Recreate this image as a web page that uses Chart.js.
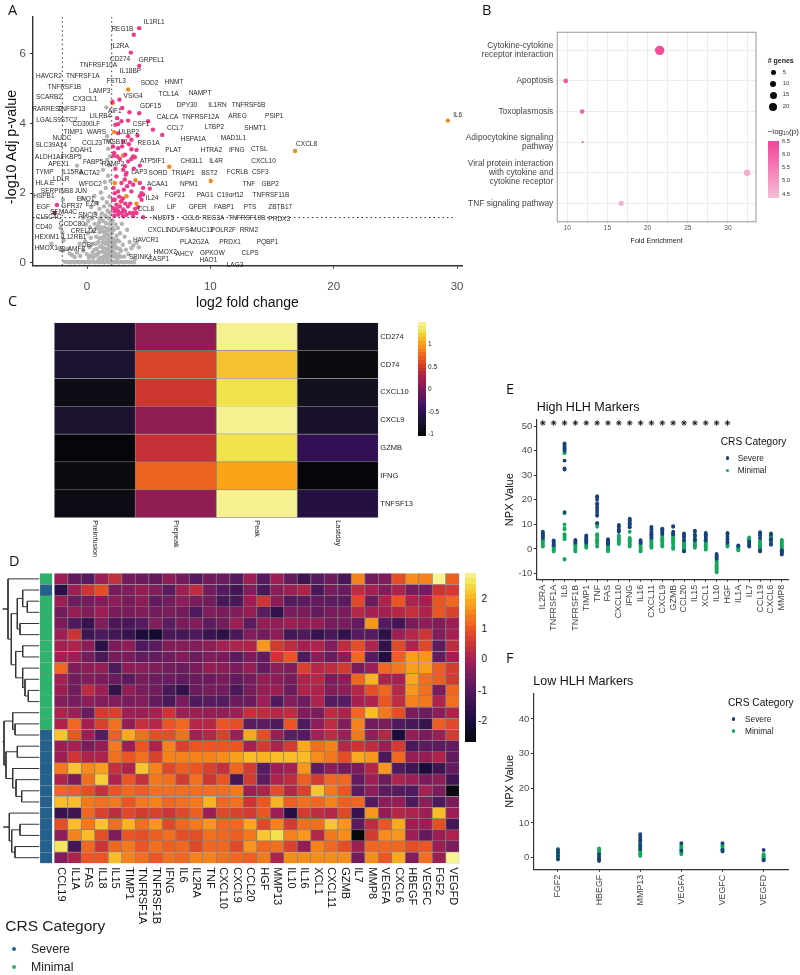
<!DOCTYPE html>
<html><head><meta charset="utf-8">
<style>
html,body{margin:0;padding:0;background:#fff;width:800px;height:975px;overflow:hidden;font-family:"Liberation Sans",Arial,sans-serif}
body{filter:blur(.3px)}
canvas{position:absolute;display:block}
.t{position:absolute;white-space:nowrap;line-height:1}
.d{position:absolute;border-radius:50%}
</style>
<script src="https://cdn.jsdelivr.net/npm/chart.js@4"></script>
</head><body>
<script>
/* ---------- Panel A data: volcano plot ---------- */
const pinkPoints=[[4.23,6.73],[3.79,6.54],[3.55,6.03],[4.23,5.65],[2.63,4.68],[2.06,4.62],[2.85,4.44],[3.44,4.32],[4.23,4.29],[2.44,4.15],[2.79,4.06],[2.52,3.98],[2.3,3.96],[3.33,4.08],[4.96,4.06],[5.34,3.82],[6.10,3.67],[2.52,3.72],[3.33,3.63],[4.09,3.65],[3.6,3.53],[2.93,3.48],[2.52,3.29],[2.11,3.34],[2.85,3.34],[3.6,3.26],[4.01,3.24],[2.11,3.07],[2.66,2.98],[3.6,2.98],[3.88,3.03],[3.33,2.91],[4.28,2.79],[2.93,2.67],[3.14,2.53],[3.06,2.39],[2.79,2.29],[3.47,2.31],[3.74,2.24],[4.28,2.29],[5.09,2.13],[4.55,2.15],[4.42,2.0],[2.25,2.0],[2.52,2.05],[2.98,2.1],[3.6,2.05],[4.28,1.91],[2.25,1.81],[2.38,1.67],[2.11,1.57],[2.66,1.62],[3.06,1.48],[3.47,1.43],[3.74,1.43],[2.25,1.48],[2.52,1.38],[2.93,1.34],[4.55,1.31],[-2.44,1.66],[2.79,1.77],[3.33,1.62],[2.38,2.48],[3.06,2.77],[3.2,2.58],[3.74,3.05],[2.52,1.48],[2.79,1.43],[3.2,1.38],[3.74,1.34],[4.01,1.43],[2.11,1.81],[2.93,1.53],[4.42,1.81],[4.55,1.96],[2.2,1.35],[2.4,1.55],[2.6,1.9],[2.9,1.85],[3.1,1.7],[3.25,2.2],[3.5,1.7],[3.9,1.55],[4.15,1.6],[2.15,2.15],[2.3,2.7],[2.45,3.05],[2.2,3.15],[3.1,3.1],[3.4,3.4],[3.8,2.7]];
const darkPinkPoints=[[-2.63,1.43]];
const orangePoints=[[3.33,4.97],[2.06,4.58],[2.2,3.75],[2.93,3.08],[6.67,2.76],[10.03,2.35],[2.25,2.29],[3.93,2.37],[3.2,1.91],[2.71,1.75],[4.01,1.7],[29.25,4.08],[16.87,3.21]];
const greyPoints=[[-1.8,.03],[-1.6,.03],[-1.4,.02],[-1.2,.03],[-1,.02],[-.8,.03],[-.6,.02],[-.4,.03],[-.2,.02],[0,.03],[.2,.02],[.4,.03],[.6,.02],[.8,.03],[1,.02],[1.2,.03],[1.4,.02],[1.6,.03],[1.8,.02],[2,.03],[2.2,.02],[2.4,.03],[2.6,.02],[2.8,.03],[3,.02],[3.2,.03],[3.4,.02],[3.6,.03],[3.8,.02],
[-2.9,.55],[-2.25,.42],[-2.15,.37],[-1.95,.35],[-1.95,1.81],[-2.15,1.0],[-2,.88],[-1.9,.65],[-1.55,.4],[-1.4,.27],[-1.2,.22],[-1,.17],[-.8,.3],[-.81,2.79],[-.4,1.85],[-.3,1.3],[-.1,1.1],[-.6,.55],[-.55,.2],[-.3,.35],[-.15,.62],[0,.25],[.05,.85],[.1,1.2],[.2,.45],[.25,1.02],[.3,.72],[.35,1.6],[.4,1.28],[.45,.3],[.5,.9],[.55,.55],[.6,1.92],[.62,1.12],[.68,.22],[.7,1.42],[.75,.75],[.8,.4],[.85,1.72],[.9,1.05],[.92,.6],[.95,.3],[1,1.55],[1,.88],[1.05,1.25],[1.08,.48],[1.1,.15],[1.12,2.02],[1.15,.72],[1.18,1.02],[1.2,1.42],[1.22,.32],[1.25,1.85],[1.28,.58],[1.3,2.67],[1.3,.9],[1.32,1.2],[1.35,.18],[1.36,.42],[1.38,1.62],[1.4,.75],[1.42,1.02],[1.44,2.32],[1.46,.3],[1.48,1.36],[1.5,.55],[1.52,2.15],[1.54,.88],[1.55,1.14],[1.57,4.46],[1.58,.12],[1.6,1.74],[1.6,.4],[1.62,2.95],[1.63,3.63],[1.64,.68],[1.66,1.5],[1.68,.22],[1.7,.98],[1.71,2.5],[1.72,3.27],[1.74,.52],[1.75,1.28],[1.76,.8],[1.78,3.5],[1.79,2.8],[1.8,.32],[1.82,1.9],[1.84,.62],[1.85,1.1],[1.86,1.65],[1.88,.15],[1.88,3.05],[1.9,.45],[1.9,2.35],[1.92,.92],[1.94,1.4],[1.95,.72],[1.96,.28],[1.98,1.15],[2,.55],[2.02,.85],[2.05,.18],[2.08,1.22],[2.1,.42],[2.14,.68],[2.18,.95],[2.22,.3],[2.26,.58],[2.3,1.1],[2.35,.15],[2.4,.78],[2.45,.42],[2.5,1.0],[2.55,.25],[2.6,.62],[2.68,.85],[2.75,.35],[2.82,1.12],[2.9,.52],[3,.18],[3.05,.75],[3.15,.38],[3.25,.95],[3.35,.25],[3.45,.6],[3.6,.42],[3.75,.5],[3.9,.12],[4,.58],[4.2,.45],
[.95,.12],[1.02,.7],[1.12,1.3],[1.2,.45],[1.26,.12],[1.34,.62],[1.44,.18],[1.47,.82],[1.56,.28],[1.58,1.32],[1.62,.92],[1.7,.38],[1.72,.62],[1.78,.15],[1.8,1.45],[1.82,.78],[1.9,.22],[1.92,1.18],[2,.35],[2.04,.62],[2.06,1.0],[2.12,.25],[2.2,.5],[2.3,.22],[2.35,.45],[2.45,.65],[2.5,.15],[2.65,.4],[2.7,.18],[.15,.15],[.3,.2],[.5,.15],[.6,.38],[.72,.55],[.78,1.0],[.85,.25],[.98,1.15],[1.08,.95]];
const geneNames=["IL1RL1","REG1B","IL2RA","CD274","GRPEL1","TNFRSF10A","IL18BP","HAVCR2","TNFRSF1A","FSTL3","SOD2","HNMT","TNFRSF1B","LAMP3","TCL1A","NAMPT","SCARB2","CX3CL1","VSIG4","DPY30","GDF15","IL1RN","TNFRSF6B","RARRES2","TNFSF13","AIF1","CALCA","TNFRSF12A","AREG","PSIP1","LILRB4","LGALS9","STC2","CD300LF","CSF1","CCL7","LTBP2","SHMT1","TIMP1","WARS","ULBP2","NUDC","HSPA1A","MAD1L1","SLC39A14","CCL23","TMSB10","REG1A","PLAT","HTRA2","IFNG","CTSL","DDAH1","ALDH1A1","FKBP5","FABP5","RAMP2","ATP5IF1","CHI3L1","IL4R","CXCL10","APEX1","TYMP","IL15RA","ACTA2","LAP3","SORD","TRIAP1","BST2","FCRLB","CSF3","LDLR","HLA.E","WFDC2","ACAA1","NPM1","TNF","GBP2","SERPINB8","JUN","HSPB1","ENO1","IL24","FGF21","PAG1","C19orf12","TNFRSF11B","EGF","GPR37","EZR","CCL8","LIF","GFER","FABP1","PTS","ZBTB17","SEMA4C","SNCG","CLEC4C","NUDT5","CCL5","REG3A","TNFRSF10B","PRDX3","CD40","CCDC80","CRELD2","IL12RB1","HEXIM1","CXCL1","NDUFS4","MUC13","POLR2F","RRM2","HAVCR1","PLA2G2A","PRDX1","PQBP1","HMOX1","SLAMF8","DBI","HMOX2","GPKOW","CLPS","SPINK1","AHCY","LAG3","CASP1","HAO1","IL6","CXCL8"];
const geneX=[5.45,2.87,2.66,2.68,5.23,.92,3.52,-3.09,-.35,2.36,5.07,7.05,-1.84,1.03,6.61,9.16,-3.09,-.16,3.74,8.1,5.15,10.57,13.09,-3.2,-1.27,2.25,6.53,9.21,12.2,15.18,1.08,-3.12,-1.46,-.05,4.39,7.15,10.33,13.63,-1.11,.76,3.39,-2.03,8.62,11.87,-2.9,.41,2.25,4.99,6.99,10.08,12.14,13.96,-.46,-3.04,-1.27,.49,2.11,5.31,8.48,10.46,14.31,-2.3,-3.44,-1.19,.22,4.23,5.75,7.8,9.92,12.2,14.04,-2.09,-3.41,.27,5.72,8.27,13.12,14.85,-2.44,-.51,-3.5,-.11,5.28,7.13,9.57,11.6,14.91,-3.55,-1.22,.41,4.77,6.86,8.97,11.11,13.22,15.66,-1.9,.05,-3.12,6.21,8.43,10.24,12.95,15.58,-3.5,-1.22,-.27,-1.08,-3.25,5.77,7.53,9.35,11.06,13.12,4.77,8.7,11.6,14.63,-3.31,-1.19,.03,6.34,10.16,13.22,4.34,7.91,12.0,5.8,9.84,30.05,17.8];
const geneY=[6.89,6.71,6.22,5.84,5.82,5.66,5.49,5.36,5.34,5.21,5.15,5.19,5.04,4.93,4.84,4.87,4.76,4.69,4.77,4.52,4.48,4.52,4.52,4.42,4.42,4.34,4.19,4.19,4.2,4.2,4.2,4.09,4.09,3.99,3.98,3.86,3.88,3.86,3.76,3.76,3.76,3.57,3.56,3.58,3.38,3.44,3.45,3.44,3.23,3.23,3.23,3.25,3.23,3.04,3.04,2.9,2.82,2.93,2.91,2.91,2.93,2.83,2.61,2.59,2.57,2.6,2.58,2.58,2.58,2.6,2.6,2.39,2.28,2.26,2.25,2.25,2.26,2.26,2.06,2.06,1.9,1.84,1.85,1.93,1.93,1.93,1.93,1.61,1.64,1.69,1.55,1.59,1.59,1.59,1.59,1.59,1.45,1.37,1.32,1.27,1.27,1.27,1.27,1.26,1.03,1.1,.9,.75,.75,.94,.94,.94,.94,.94,.65,.6,.6,.6,.42,.4,.51,.31,.27,.27,.17,.26,-.06,.1,.08,4.24,3.39];
/* ---------- Panel B data ---------- */
const pathwayNames=[["Cytokine-cytokine","receptor interaction"],"Apoptosis","Toxoplasmosis",["Adipocytokine signaling","pathway"],["Viral protein interaction","with cytokine and","cytokine receptor"],"TNF signaling pathway"];
const foldEnrichment=[21.5,9.8,11.85,11.9,32.4,16.7];
const geneCounts=[20,5,5,1,10,6];
const negLogP=[6.45,6.2,6.0,6.2,4.65,4.6];
const genesLegend=[5,10,15,20];
const pLegend=[6.5,6.0,5.5,5.0,4.5];
/* ---------- Panel C data ---------- */
const timeNames=["Preinfusion","Prepeak","Peak","Lastday"];
const markerNames=["CD274","CD74","CXCL10","CXCL9","GZMB","IFNG","TNFSF13"];
const markerValues=[[-.68,.12,1.42,-.8],[-.65,.55,1.12,-.9],[-.88,.47,1.25,-.78],[-.68,.12,1.42,-.7],[-.98,.42,1.25,-.45],[-.9,.72,1.0,-.98],[-.88,.12,1.42,-.58]];
const cBarTicks=[1,.5,0,-.5,-1];
/* ---------- Panel D data ---------- */
const cytokineNames=["CCL19","IL1A","FAS","IL18","IL15","TIMP1","TNFRSF1A","TNFRSF1B","IFNG","IL6","IL2RA","TNF","CXCL10","CXCL9","CCL20","HGF","MMP13","IL10","IL16","XCL1","CXCL11","GZMB","IL7","MMP8","VEGFA","CXCL6","HBEGF","VEGFC","FGF2","VEGFD"];
const rowCategory=["M","S","M","M","M","M","M","M","M","M","M","M","M","M","S","S","S","S","S","S","S","S","S","S","S","S"];
const cytokineValues=[
[-.1,-.8,-1,-.1,.4,-.6,-.7,-.8,-.3,-.6,-1,-.6,-.7,-1,-.1,-1,-.1,-.8,-1.4,-1,-.7,-1.2,1.5,-.6,-.4,.9,1.6,1.5,2.8,1.1],
[-1.7,-.1,.5,.9,-.5,-.4,-.2,-.4,-.9,-.1,.3,-.6,-1,-1.3,-.4,-1.2,-.3,-.1,.1,-1.2,-.5,-.7,.3,0,-.4,.1,-.5,-.6,.5,.6],
[-.1,-.7,-.6,-.4,-.3,-.5,-.3,-.8,-.6,-.3,-.5,-.6,-1.2,-1.2,-.1,.5,-.3,-1,-.9,-.8,-.9,-.9,.8,-.7,.1,1,.1,0,1,1.2],
[-.6,-.2,-.4,-.1,-.5,-.5,-.4,-.6,-.5,-.6,-1.1,-.4,-.5,-.4,-.2,-.9,-1.6,-.5,-.5,-.8,-.5,-.5,.2,0,0,.2,.4,.1,1,.7],
[-.5,-1.1,-1.5,-.4,-1.2,-1.2,-1,-.4,-.9,-.5,-.4,-.9,-.6,-.1,-.9,-.2,-.2,-.1,-.2,-.2,-.5,-.5,-.8,1.7,-1,-1.3,-.5,-.3,-.4,-.1],
[-.1,.5,-1.4,-1.1,-1.3,-1.5,-2,-2.2,-1.2,-1.3,-1.1,-1.5,-1.7,-1.2,-.4,-.6,-.3,-1.3,-1.1,-1.5,-1.2,-1.6,-1,-1,-1.7,-.1,.2,.5,-.4,0],
[0,.1,-.3,-1.7,-.5,-.3,-1.1,-.9,-.4,-.4,-.4,-.3,0,.1,.1,1.7,.6,.3,0,.1,-.4,.3,.9,.1,-1.6,.8,.1,.8,-.9,.3],
[0,-.1,-.6,-1.2,-.5,-.5,-.8,-.8,-.6,-.4,-.7,-.4,-.5,-.9,-.5,-.8,.5,1,-1.1,-.3,-.7,-.3,1.2,-1,-1.9,1.1,1.8,1.7,-.8,0],
[1.2,-.4,-.3,-.2,-1.1,-.3,-.3,-.4,-.6,-.7,-.5,-.2,-.3,-.5,-.2,-.8,-.3,-.4,.7,.2,.3,.6,-.5,-.1,1.2,1.4,1.8,1.8,1.1,.6],
[0,-.6,-.4,-.5,-.7,-.9,-.5,-.7,-.7,-.8,-.7,-.7,-.5,-.8,-.6,-.2,-.3,-.5,.1,.2,-.5,-.3,1.2,2,.1,0,1.9,1.3,1.1,.6],
[-.1,-.6,.3,-.1,-1.6,-.2,-.5,-.6,-1.2,-1.6,-.7,-.5,-.6,-1.2,-.5,-.2,-.1,-.7,.1,.1,-.4,-.3,.2,.9,1.2,.2,1.7,1.3,-.5,1.2],
[-.4,-.5,-.3,-.4,-.4,-.5,-.4,-.8,-1.2,-.5,-1.1,-1,-1,-.7,-.7,-.1,-1.1,-.4,-.7,.1,-1,-1,0,.1,1,.3,1.5,1.4,.1,1.3],
[.1,-.1,-.7,.6,.7,-.1,-.1,0,.5,-.1,-.1,-.2,-.2,-.1,.4,.3,.2,.3,-.4,-.5,.3,.1,1.2,2.1,1.4,.9,-.5,-.7,-.3,.1],
[.1,1.2,0,.7,1.3,-.2,.4,.2,1,1.2,.2,.2,1,.9,-.9,-.9,-1.1,1,-1.1,-.3,.3,-.4,1.5,-.6,-.5,-1.1,-1.2,-1.5,1.1,.8],
[2.2,1,-.1,-1,1.1,1.9,1.3,.9,.9,1.3,0,.2,.7,-.1,1.9,.9,-.1,-.8,-1,0,.3,-.1,1.4,-.2,.2,-2,-.2,-.5,-.1,.6],
[-.1,0,-.5,-.2,1.4,-.1,1,.1,1.5,.7,1,1,1,1,0,.6,.1,.6,1.9,1.3,1.5,.2,.5,.3,-.1,.6,-1.2,-.9,-.9,-.8],
[-.1,.5,.1,.1,1.3,1,1.3,.7,1.5,1.5,1.5,1.5,1.6,1.8,2.1,2,2.1,2.1,2.1,1.6,1.4,.9,1.9,1.7,-1.2,1.2,-.2,-.2,.1,-.8],
[1.4,2.2,1.6,1.8,.4,.1,2.2,1.5,.8,1.1,1,.7,.4,1.2,.6,-1,-.1,0,1.7,-.9,-.3,-.6,-.5,.2,1.7,-1.1,-1.4,-2,-1.4,-.8],
[.1,-.5,1.3,2.3,.1,1,.4,1.4,1.3,.6,1.3,.5,1,-1.3,.6,-.9,.1,.3,1.1,.6,1.2,1.2,-.8,-.1,-.7,.1,-.1,-.5,-.3,-1.4],
[1.2,1.1,.9,.4,1,1.2,1.1,1.3,1.3,1.3,1.3,1.3,1.3,1.4,-.1,.1,.9,.2,.7,2.2,1.4,1,-.9,-.3,-.9,-1,-1.1,0,-.5,-2.6],
[2.1,2.1,1.4,1.3,1.4,1,1.4,1.5,1.2,1.3,1.4,2,1.2,1.3,.5,1,2,1.1,1.3,1.2,1.5,1.1,1.2,-1,-.3,-.2,-1.1,-.3,-1.1,-.5],
[-1.5,-1.4,1.2,.7,.3,.8,.6,.7,.5,.8,1.1,-.1,.8,.7,.6,1,-.1,-1.8,.6,.3,.2,.8,-1.5,1.7,-.2,.2,.1,-.1,2.1,-.1],
[.9,2.1,1.4,2.2,1.3,2,1.3,1.7,.8,1.2,1.4,1.7,1.2,1.2,1.9,.8,1.5,.6,1.3,1.3,2.2,1.7,-.9,.3,1,1.9,-.1,-.1,.9,-1.3],
[-.3,1.5,2.1,.9,-.4,1,.9,1.1,1.3,.9,.9,1.3,1.2,1.1,1.4,2.2,2.5,1.5,1.7,.2,1.4,1.6,-2.7,.6,1.6,1.7,-.1,-.8,-.1,.1],
[2.6,-1.3,1.2,.5,1.2,1.4,1,1.3,1.1,1.2,.8,1.2,1.2,.8,1.7,1.2,1.3,.7,-.2,1.5,1.2,.9,-.1,1.2,1.2,1.2,.9,1,-.1,-.5],
[-.4,.1,1,1,2.1,1.5,1.3,1,1.3,1.2,1.5,1.5,1.3,1.2,1.1,1.4,.1,1.6,1.6,1.6,1.6,1.6,-.6,1.6,1,1.9,-.4,1.3,-.1,2.8]];
/* dendrogram brackets: merge height, first child row and height, second child row and height */
const dendroBrackets=[[27.3,2,39.3,3,39.3],[22.7,1,39.3,2.5,27.3],[20,4,39.3,5,39.3],[17.3,1.75,22.7,4.5,20],[22.7,6,39.3,7,39.3],[28.3,10,39.3,11,39.3],[25,9,39.3,10.5,28.3],[22.7,8,39.3,9.75,25],[15.7,6.5,22.7,8.87,22.7],[11.3,3.12,17.3,7.7,15.7],[8,0,39.3,5.4,11.3],[2.7,2.7,8,2.7,8],
[15,13,39.3,14,39.3],[12.7,12,39.3,13.5,15],[17.3,15,39.3,16,39.3],[21.7,19,39.3,20,39.3],[16,18,39.3,19.5,21.7],[12.7,17,39.3,18.75,16],[6,15.5,17.3,17.9,12.7],[4,12.75,12.7,16.7,6],[2.7,14.6,4,14.6,4],
[20,22,39.3,23,39.3],[15,24,39.3,25,39.3],[11.7,22.5,20,24.5,15],[9.3,21,39.3,23.5,11.7],[3.3,22.25,9.3,22.25,9.3]];
const dBarTicks=[2,1,0,-1,-2];
/* ---------- Panel E data ---------- */
const highMarkers=["IL2RA","TNFRSF1A","IL6","TNFRSF1B","TIMP1","TNF","FAS","CXCL10","IFNG","IL16","CXCL11","CXCL9","GZMB","CCL20","IL15","XCL1","IL10","HGF","IL1A","IL7","CCL19","CXCL6","MMP8"];
const highSevere=[[7,6.5,6,5.5,5,4.5],[3.5,3,2.5,2,1.5],[43,42.5,42,41.5,41,40.5,40,36,32.8,32.3,15],[3.7,3.3,3,2.5],[5.5,5,4.5,4,3.5,3,2.5],[21.5,21,20,18.5,18,17,16,15,14,13.5,10.5],[4,3.5,3,2.5,2],[9.8,9.3,9,8,7.5,7],[12.3,12,11.5,11,10,9,8.8],[3.6,3.2,2.8,2.4],[9,8.5,8,7,6.5,6,5.5,5,4.5],[8.3,8,7.5,7,6.5,6],[9.3,9,7,6.5,6],[6.3,5.8,5.2,4.5,3.5,-.8,-1],[7.5,7,5.8,5.3,4,3.5],[6.5,6,5.5,5,4.3,3.5],[-2,-2.5,-3,-3.5,-4],[6.5,6,5,4,3,2.5],[1.5,1.2],[3,2.5,2,1.5,1],[6.8,6.3,5.5,4.5,-.5,-1],[6.3,5.8,4,3.5,2,1.7],[-.5,-1,-1.5,-2,-2.3]];
const highMinimal=[[4.5,4,3.5,3,2.5,2,1.5,1],[1.5,1,.5,0,-.5,-1],[39.5,39,14.5,10,8.5,8,6,5.5,5,4.5,4,-4,-4.3],[2.2,1.8,1.4,1,.5,0,-.5,-1],[2.5,2,1.5,1,.5],[10.5,10,9,6,5.5,5,4,3.5,3,2.5,2,1],[2,1.5,1,.5,0,-.5,-1],[5.5,5,4.5,4,3.5,3,2.5,2],[10.5,10,7,4.5,4,3.5,3,2.5,2,1.5,1],[2.2,1.8,1.2,.8,.4,0,-.5,-1],[4.3,3.5,3,2.5,2,1.5,1,.5],[5,4.5,4,3.5,3,2.5,2,1.5,1],[5.5,5,4.5,4,3.5,3,2.5,2,1,.5,0],[3,2.5,2,1.5,1,.5,0,-.5],[5.5,4.5,3,2.5,2,1.5,1,.5],[3.5,3,2.5,2,1.5,1,.5,0,-.3],[-4.2,-5,-5.5,-6,-6.5,-7,-7.5,-8,-8.5,-9,-9.5],[2,1.5,1],[1,.7,.4,0,-.3,-.6],[4.7,4.3,4,3.5,3],[4,3,2.5,2,1.5,1,.5,0],[5.5,5,4.5,4,3,2.5],[3.7,3.3,3,2.5,2,1.5,1,.5,0,-.5,-1]];
const starCount=18;
const starLevel=51.3;
/* ---------- Panel F data ---------- */
const lowMarkers=["FGF2","HBEGF","MMP13","VEGFA","VEGFC","VEGFD"];
const lowSevere=[[2.2,1.5,.5,-.5],[1,0,-.5,-1],[6.8,6.5,6,5.5,5,4.5,3.5,2.5],[4.2,2],[4.2,2.2,1.8],[2.2,-.6,-.8]];
const lowMinimal=[[2.5,2,1.5,1,.5,0,-.3],[2.7,2.3,2,1.5,1,.5,0,-.5],[4,3.5,3,2.5,2,1.5,1,.5],[3.8,3.4,3,2.6,2.2,1.8,1.4,1],[4,3.6,3.2,2.8,2.4,2],[1,.7,.4,.1,-.2,-.4]];

/* ---------- colours ---------- */
const C_PINK='#ee3a8c',C_ORANGE='#f08a1d',C_GREY='#b3b3b3',C_SEV='#17407c',C_MIN='#13a85c',C_AX='#333333',C_TICK='#4d4d4d';
const stopsD=[[-2.7,'#080808'],[-2,'#1c0c3e'],[-1,'#551a60'],[-.5,'#7a1b5c'],[0,'#a61f52'],[.5,'#cc3436'],[1,'#ea5523'],[1.5,'#f6821c'],[2,'#fbb31f'],[2.5,'#f4e04a'],[2.83,'#f7f59a']];
const stopsC=[[-1,'#050508'],[-.75,'#161322'],[-.5,'#2a1050'],[-.25,'#4e1564'],[0,'#7a1a5a'],[.25,'#a51f4a'],[.5,'#d23a2c'],[.75,'#f06a1e'],[1,'#fba418'],[1.25,'#f1e24c'],[1.45,'#f7f49c']];
const stopsP=[[4.4,'#f7bcd5'],[6.5,'#f0489b']];
function ramp(stops,v){
  if(v<=stops[0][0])return stops[0][1];
  for(let i=1;i<stops.length;i++){
    if(v<=stops[i][0]){
      const t=(v-stops[i-1][0])/(stops[i][0]-stops[i-1][0]);
      const a=stops[i-1][1],b=stops[i][1];
      const c=[1,3,5].map(k=>Math.round(parseInt(a.substr(k,2),16)*(1-t)+parseInt(b.substr(k,2),16)*t));
      return `rgb(${c[0]},${c[1]},${c[2]})`;
    }
  }
  return stops[stops.length-1][1];
}
/* ---------- helpers ---------- */
Chart.defaults.font.family='"Liberation Sans",Arial,sans-serif';
Chart.defaults.animation=false;
Chart.defaults.responsive=false;
Chart.defaults.devicePixelRatio=1;
Chart.defaults.plugins.legend.display=false;
Chart.defaults.plugins.tooltip.enabled=false;
function cv(x,y,w,h){const c=document.createElement('canvas');c.width=w;c.height=h;c.style.left=x+'px';c.style.top=y+'px';c.style.width=w+'px';c.style.height=h+'px';document.body.appendChild(c);return c.getContext('2d');}
function T(s,x,y,o={}){const e=document.createElement('div');e.className='t';e.textContent=s;e.style.left=x+'px';e.style.top=y+'px';e.style.fontSize=(o.size||8)+'px';e.style.color=o.color||'#111';if(o.family)e.style.fontFamily=o.family;if(o.weight)e.style.fontWeight=o.weight;const tx=o.align==='right'?'-100%':o.align==='center'?'-50%':'0';e.style.transform=`translate(${tx},-50%)`+(o.rot?` rotate(${o.rot}deg)`:'');document.body.appendChild(e);return e;}
function dot(x,y,r,c){const e=document.createElement('div');e.className='d';e.style.left=(x-r)+'px';e.style.top=(y-r)+'px';e.style.width=e.style.height=(2*r)+'px';e.style.background=c;document.body.appendChild(e);}
function bar(x,y,w,h,stops,lo,hi,steps){const e=document.createElement('div');e.style.position='absolute';e.style.left=x+'px';e.style.top=y+'px';e.style.width=w+'px';e.style.height=h+'px';const p=[];for(let i=0;i<steps;i++){const c=ramp(stops,hi-(hi-lo)*(i+.5)/steps);p.push(`${c} ${100*i/steps}%`,`${c} ${100*(i+1)/steps}%`);}e.style.background=`linear-gradient(to bottom,${p.join(',')})`;document.body.appendChild(e);}
const pts=a=>a.map(p=>({x:p[0],y:p[1]}));
const scatterSet=(a,c,r)=>({type:'scatter',data:pts(a),backgroundColor:c,pointBackgroundColor:c,pointBorderWidth:0,pointRadius:r});

/* ---------- A ---------- */
const geneLabelPlugin={id:'geneLabels',afterDatasetsDraw(ch){const c=ch.ctx,xs=ch.scales.x,ys=ch.scales.y;c.save();c.font='6.5px "Liberation Sans"';c.fillStyle='#2a2a2a';c.textAlign='center';c.textBaseline='middle';geneNames.forEach((n,i)=>c.fillText(n,xs.getPixelForValue(geneX[i]),ys.getPixelForValue(geneY[i])));c.restore();}};
const dash=(a,b)=>({type:'scatter',data:[a,b],showLine:true,borderColor:'#333',borderWidth:1,borderDash:[1.5,3],pointRadius:0,clip:false});
new Chart(cv(0,0,480,312),{type:'scatter',data:{datasets:[
  dash({x:-2,y:-.08},{x:-2,y:7.05}),dash({x:2,y:-.08},{x:2,y:7.05}),dash({x:-4.38,y:1.3},{x:29.9,y:1.3}),
  scatterSet(greyPoints,C_GREY,2.2),scatterSet(pinkPoints,C_PINK,2.2),scatterSet(darkPinkPoints,'#a0264e',2.2),scatterSet(orangePoints,C_ORANGE,2.2)]},
 options:{layout:{padding:{top:17,right:18,left:0,bottom:0}},scales:{
  x:{type:'linear',min:-4.38,max:30.4,afterFit:s=>{s.height=46.3},grid:{drawOnChartArea:false,drawTicks:true,tickLength:3,color:C_AX},border:{display:true,color:C_AX,width:1.4},
     ticks:{stepSize:10,includeBounds:false,color:C_TICK,font:{size:11.5},padding:11,maxRotation:0},title:{display:true,text:'log2 fold change',font:{size:14},color:'#111',padding:{top:1.6,bottom:0}}},
  y:{min:-.08,max:7.05,afterFit:s=>{s.width=33},grid:{drawOnChartArea:false,drawTicks:true,tickLength:3,color:C_AX},border:{display:true,color:C_AX,width:1.4},
     ticks:{stepSize:2,includeBounds:false,color:C_TICK,font:{size:11.5},padding:4}}}},
 plugins:[geneLabelPlugin]});
T('-log10 Adj p-value',11,147,{size:14.3,color:'#111',align:'center',rot:-90});

/* ---------- B ---------- */
const frame={id:'frame',afterDraw(ch){const c=ch.ctx,a=ch.chartArea;c.save();c.strokeStyle='#a8a8a8';c.lineWidth=1.2;c.strokeRect(a.left,a.top,a.right-a.left,a.bottom-a.top);c.restore();}};
new Chart(cv(460,20,305,225),{type:'scatter',data:{datasets:[{data:foldEnrichment.map((v,i)=>({x:v,y:i+1})),
   pointRadius:geneCounts.map(g=>1.05*Math.sqrt(g)),pointBackgroundColor:negLogP.map(p=>ramp(stopsP,p)),pointBorderWidth:0}]},
 options:{layout:{padding:{top:12.3,right:9,left:0,bottom:0}},scales:{
  x:{type:'linear',min:8.75,max:33.5,afterFit:s=>{s.height=23.3},grid:{color:'#ececec',tickLength:2,lineWidth:1},border:{display:false},
     ticks:{stepSize:2.5,includeBounds:false,autoSkip:false,maxRotation:0,padding:1,color:'#555',font:{size:6.5},callback:v=>(v%5===0?String(v):'')},
     title:{display:true,text:'Fold Enrichment',font:{size:7.2},color:'#222',padding:{top:4.7,bottom:0}}},
  y:{type:'linear',reverse:true,min:.41,max:6.6,afterFit:s=>{s.width=97.3},grid:{color:'#ececec',tickLength:2,lineWidth:1},border:{display:false},
     ticks:{stepSize:1,includeBounds:false,autoSkip:false,padding:2,color:'#444',font:{size:8.4,lineHeight:1.12},callback:v=>pathwayNames[v-1]}}}},
 plugins:[frame]});
T('# genes',767.7,60,{size:7,color:'#222',weight:'bold'});
genesLegend.forEach((g,i)=>{const y=[72.7,84,95.3,107][i];dot(773.3,y,[2.3,3,3.7,4.2][i],'#0a0a0a');T(String(g),782.7,y,{size:5.8,color:'#333'});});
T('−log₁₀(p)',767.7,132.3,{size:8,color:'#222'});
bar(767.7,140.7,11,57,stopsP,4.4,6.55,40);
pLegend.forEach((p,i)=>T(p.toFixed(1),782,[142,155,168,181,195][i],{size:5.8,color:'#333'}));

/* ---------- C ---------- */
function heatChart(ctx,cols,rows,stops,pad,extra){
  return new Chart(ctx,{type:'bar',data:{labels:cols,datasets:rows.map(r=>({data:cols.map(()=>1),backgroundColor:r.map(v=>ramp(stops,v)),borderColor:'#808080',borderWidth:.7,barPercentage:1,categoryPercentage:1}))},
    options:{layout:{padding:pad},scales:{x:{display:false,stacked:true},y:{display:false,stacked:true,reverse:true,min:0,max:rows.length}}},plugins:extra?[extra]:[]});
}
function cellLabels(cols,rowNames,colFont,rowFont,colColor,gap){return {id:'cellLabels',afterDraw(ch){const c=ch.ctx,xs=ch.scales.x,ys=ch.scales.y;c.save();c.fillStyle=colColor;c.textBaseline='middle';
   c.font=colFont;cols.forEach((n,i)=>{c.save();c.translate(xs.getPixelForValue(i),ch.chartArea.bottom+gap);c.rotate(Math.PI/2);c.textAlign='left';c.fillText(n,0,0);c.restore();});
   if(rowNames){c.font=rowFont;c.textAlign='left';rowNames.forEach((n,i)=>c.fillText(n,ch.chartArea.right+2,ys.getPixelForValue(i+.5)));}
   c.restore();}};}
heatChart(cv(50,318,370,240),timeNames,markerValues,stopsC,{left:4.3,top:4.7,right:41.7,bottom:40.3},cellLabels(timeNames,markerNames,'7.4px "Liberation Sans"','7.5px "Liberation Sans"','#222',2.5));
bar(417.7,322.3,8,113.4,stopsC,-1,1.45,30);
cBarTicks.forEach((v,i)=>T(String(v),428,[344,367,389,412,434][i],{size:6.5,color:'#222'}));

/* ---------- D ---------- */
heatChart(cv(50,568,415,362),cytokineNames,cytokineValues,stopsD,{left:4.3,top:5.3,right:5.7,bottom:66.7},cellLabels(cytokineNames,null,'11px "Liberation Sans"','', '#111',4));
new Chart(cv(38,568,18,300),{type:'bar',data:{labels:['CRS'],datasets:rowCategory.map(k=>({data:[1],backgroundColor:k==='S'?'#23608e':'#2db36b',borderColor:'#808080',borderWidth:.5,barPercentage:1,categoryPercentage:1}))},
  options:{layout:{padding:{left:2,right:3.7,top:5.3,bottom:4.7}},scales:{x:{display:false,stacked:true},y:{display:false,stacked:true,reverse:true,min:0,max:rowCategory.length}}}});
const dendroPath=[];
dendroBrackets.forEach(b=>{dendroPath.push({x:b[2],y:b[1]},{x:b[0],y:b[1]},{x:b[0],y:b[3]},{x:b[4],y:b[3]},{x:b[4],y:null});});
new Chart(cv(0,568,40,300),{type:'scatter',data:{datasets:[{data:dendroPath,showLine:true,spanGaps:false,borderColor:'#333',borderWidth:1,pointRadius:0}]},
  options:{layout:{padding:{top:5.3,bottom:4.7}},scales:{x:{display:false,type:'linear',min:0,max:40},y:{display:false,reverse:true,min:-.5,max:25.5}}}});
bar(465,573.3,11,169,stopsD,-2.7,2.83,32);
dBarTicks.forEach((v,i)=>T(String(v),487,[598.7,629.3,659.3,691,721][i],{size:10,color:'#222',align:'right'}));
T('CRS Category',5.3,926,{size:15.5,color:'#222'});
dot(14,949,2.2,'#23608e');T('Severe',31,949,{size:12.3,color:'#222'});
dot(14,966.7,2.2,'#2db36b');T('Minimal',31,966.7,{size:12.3,color:'#222'});

/* ---------- E / F ---------- */
function stripChart(ctx,names,sev,min,o){
  const flat=a=>a.flatMap((vals,i)=>vals.map(v=>[i,v]));
  const ds=[scatterSet(flat(sev),C_SEV,1.9),scatterSet(flat(min),C_MIN,1.9)];
  if(o.stars){ds.push({type:'scatter',data:o.stars,pointStyle:'star',pointRadius:2.8,borderColor:'#111',pointBorderColor:'#111',pointBorderWidth:.9});}
  const ax={drawOnChartArea:false,drawTicks:true,tickLength:2.5,color:C_AX};
  return new Chart(ctx,{type:'scatter',data:{datasets:ds},options:{layout:{padding:{top:o.pt,right:11.7,left:0,bottom:0}},scales:{
    x:{type:'linear',min:-.6,max:names.length-.4,afterFit:s=>{s.height=o.xh},grid:ax,border:{display:true,color:C_AX,width:1.2},
       ticks:{stepSize:1,includeBounds:false,autoSkip:false,minRotation:90,maxRotation:90,padding:3,color:'#444',font:{size:8.9},callback:v=>names[v]}},
    y:{min:o.lo,max:o.hi,afterFit:s=>{s.width=o.yw},grid:ax,border:{display:true,color:C_AX,width:1.2},
       ticks:{stepSize:10,includeBounds:false,padding:1.5,color:C_TICK,font:{size:9.5}},title:{display:true,text:'NPX Value',font:{size:11},color:'#111',padding:{top:13.4,bottom:0}}}}}});
}
stripChart(cv(490,410,310,230),highMarkers,highSevere,highMinimal,{pt:10,xh:60.7,yw:46.3,lo:-12.35,hi:52.5,stars:highMarkers.slice(0,starCount).map((_,i)=>({x:i,y:starLevel}))});
T('High HLH Markers',536.7,406.7,{size:12.5,color:'#111'});
T('CRS Category',720.7,442.3,{size:10.2,color:'#111'});
dot(727.3,458,1.6,C_SEV);T('Severe',737.7,458,{size:8.3,color:'#222'});
dot(727.3,470.3,1.6,C_MIN);T('Minimal',737.7,470.3,{size:8.3,color:'#222'});
stripChart(cv(490,685,310,225),lowMarkers,lowSevere,lowMinimal,{pt:8.3,xh:40.7,yw:43.3,lo:-3.36,hi:47.4});
T('Low HLH Markers',533.3,681.3,{size:12.5,color:'#111'});
T('CRS Category',728,703.3,{size:10.2,color:'#111'});
dot(733.7,719,1.6,C_SEV);T('Severe',745,719,{size:8.3,color:'#222'});
dot(733.7,731,1.6,C_MIN);T('Minimal',745,731,{size:8.3,color:'#222'});

/* ---------- panel letters ---------- */
[['A',8,10],['B',482,10],['C',8,301],['D',9,561],['E',506,389],['F',506,658]].forEach(l=>T(l[0],l[1],l[2],{size:14.5,color:'#111',family:'"Open Sans"'}));
</script>
</body></html>
